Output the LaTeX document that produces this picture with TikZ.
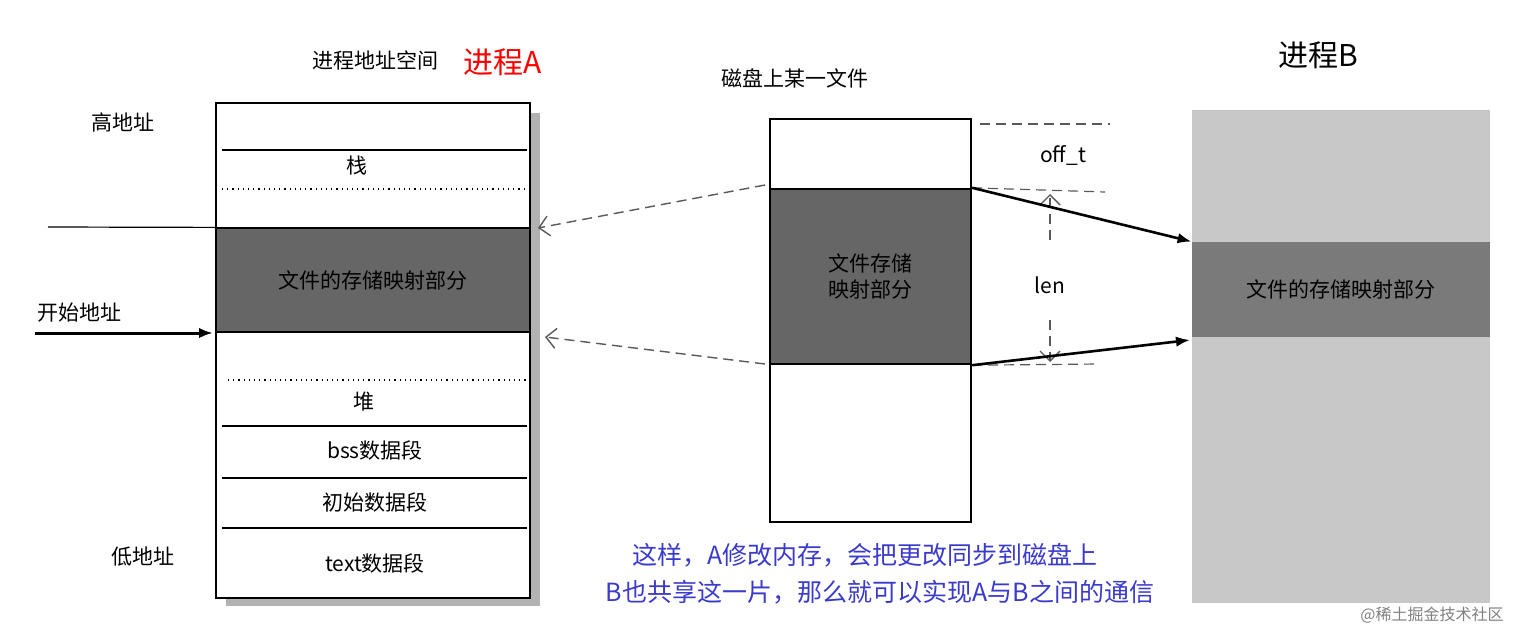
\documentclass[tikz,border=0pt]{standalone}
\usepackage{fontspec}
\setmainfont{Noto Sans CJK SC}
\usetikzlibrary{arrows.meta}
\definecolor{darkseg}{HTML}{666666}
\definecolor{grayB}{HTML}{C8C8C8}
\definecolor{bandB}{HTML}{7A7A7A}
\definecolor{noteblue}{HTML}{3A3ACC}
\begin{document}
\begin{tikzpicture}[x=0.5pt,y=-0.5pt,
	lbl/.style={font=\fontsize{10.5}{13}\selectfont},
	big/.style={font=\fontsize{15}{17}\selectfont},
	thin/.style={line width=0.6pt},
	dotline/.style={dotted,line width=0.6pt},
	dashline/.style={dash pattern=on 5pt off 3pt,line width=0.6pt,gray!70!black},
	darrow/.style={dash pattern=on 5pt off 3pt,line width=0.7pt,gray!70!black,-{Straight Barb[length=5pt]}},
	sarrow/.style={line width=1.3pt,-{Latex[length=7pt]}}]

	\useasboundingbox (0,0) rectangle (1522,632);

	% process A
	\fill[gray!60] (226,113) rectangle (540,606);
	\node[draw,thin,fill=white,minimum width=157pt,minimum height=247.5pt,inner sep=0pt] (memA) at (373,350.5) {};
	\draw[thin] (222,150) -- (527,150);
	\draw[dotline] (222,189) -- (527,189);
	\node[draw,thin,fill=darkseg,minimum width=157pt,minimum height=52pt,inner sep=0pt,lbl] (mapA) at (373,280) {文件的存储映射部分};
	\draw[dotline] (228,380) -- (527,380);
	\draw[thin] (222,426) -- (527,426);
	\draw[thin] (222,478) -- (527,478);
	\draw[thin] (222,528) -- (527,528);
	\node[lbl] (stack) at (357,166) {栈};
	\node[lbl] (heap) at (364,402) {堆};
	\node[lbl] (bss) at (375,450) {bss数据段};
	\node[lbl] (init) at (375,502) {初始数据段};
	\node[lbl] (text) at (375,563) {text数据段};
	\node[lbl] (high) at (123,122) {高地址};
	\node[lbl] (low) at (143,557) {低地址};
	\node[lbl] (start) at (80,313) {开始地址};
	\coordinate (startL) at (35,333);
	\coordinate (lineL) at (48,227);
	\draw[thin] (lineL) -- (mapA.north west);
	\draw[sarrow,line width=1.5pt] (startL) -- (213,333);
	\node[lbl] (titleA) at (375,60) {进程地址空间};
	\node[big,red] (procA) at (503,62) {进程A};

	% file on disk
	\node[draw,thin,fill=white,minimum width=100.5pt,minimum height=201.5pt,inner sep=0pt] (file) at (870.5,320.5) {};
	\node[draw,line width=1.2pt,fill=darkseg,minimum width=100.5pt,minimum height=87.5pt,inner sep=0pt,lbl,align=center] (mapF) at (870.5,276.5) {文件存储\\映射部分};
	\node[lbl] (titleF) at (795,78) {磁盘上某一文件};
	\coordinate (t0) at (980,124);
	\coordinate (t1) at (1110,124);
	\coordinate (m1) at (1105,192);
	\coordinate (b1) at (1100,364);
	\draw[dashline] (t0) -- (t1);
	\draw[dashline] (mapF.north east) -- (m1);
	\draw[dashline] (mapF.south east) -- (b1);
	\node[lbl] (offt) at (1063,155) {off\_t};
	\node[lbl] (len) at (1050,285) {len};
	\draw[darrow] (1050,240) -- (1050,194);
	\draw[darrow] (1050,320) -- (1050,362);
	\draw[darrow] (765,185) -- (538,228);
	\draw[darrow] (765,364) -- (545,337);

	% process B
	\fill[grayB] (1192,110) rectangle (1490,603);
	\node[fill=bandB,minimum width=149pt,minimum height=47.5pt,inner sep=0pt,lbl] (mapB) at (1341,289.5) {文件的存储映射部分};
	\node[big] (procB) at (1318,55) {进程B};
	\draw[sarrow] (mapF.north east) -- (mapB.north west);
	\draw[sarrow] (mapF.south east) -- (1190,340);

	% note
	\node[noteblue,font=\fontsize{12.5}{14}\selectfont] (note1) at (865,555) {这样，A修改内存，会把更改同步到磁盘上};
	\node[noteblue,font=\fontsize{12.5}{14}\selectfont] (note2) at (880,592) {B也共享这一片，那么就可以实现A与B之间的通信};
	\node[gray,font=\fontsize{8}{10}\selectfont] (mark) at (1432,615) {@稀土掘金技术社区};
\end{tikzpicture}
\end{document}
